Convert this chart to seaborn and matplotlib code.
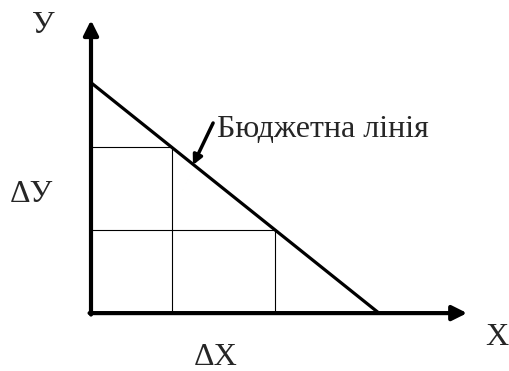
import pandas as pd
import matplotlib.pyplot as plt
import seaborn as sns

# budget line: intercepts on X and Y axes
budget_x = [0, 10]
budget_y = [8, 0]
# two consumption bundles on the budget line
bundle_x = [2.8, 6.4]
bundle_y = [5.76, 2.88]

axis_labels = ['У', 'X']
delta_labels = ['ΔУ', 'ΔX']
line_label = 'Бюджетна лінія'

sns.set_theme(style='white')
plt.rcParams['font.family'] = ['Liberation Serif', 'DejaVu Serif']

fig = plt.figure(figsize=(5.10, 3.71), dpi=100)
ax = fig.add_axes([0, 0, 1, 1])

df = pd.DataFrame({'x': budget_x, 'y': budget_y})
sns.lineplot(data=df, x='x', y='y', color='black', linewidth=2.3, ax=ax)

# grid of the bundles
for bx, by in zip(bundle_x, bundle_y):
    ax.plot([0, bx], [by, by], color='black', linewidth=0.8)
    ax.plot([bx, bx], [0, by], color='black', linewidth=0.8)

# axes with arrows
arrow = dict(arrowstyle='-|>', color='black', linewidth=3,
             mutation_scale=22, shrinkA=0, shrinkB=0)
ax.annotate('', xy=(0, 10.17), xytext=(0, -0.05), arrowprops=arrow)
ax.annotate('', xy=(13.06, 0), xytext=(-0.05, 0), arrowprops=arrow)

fs = 23
ax.text(-1.67, 9.72, axis_labels[0], fontsize=fs, ha='center', va='baseline')
ax.text(14.1, -1.11, axis_labels[1], fontsize=fs, ha='center', va='baseline')
ax.text(-2.08, 3.85, delta_labels[0], fontsize=fs, ha='center', va='baseline')
ax.text(4.34, -1.8, delta_labels[1], fontsize=fs, ha='center', va='baseline')

ax.text(4.375, 6.11, line_label, fontsize=fs, ha='left', va='baseline')
ax.annotate('', xy=(3.54, 5.14), xytext=(4.24, 6.6),
            arrowprops=dict(arrowstyle='-|>', color='black', linewidth=2.5,
                            mutation_scale=14, shrinkA=0, shrinkB=0))

ax.set_xlim(-3.16, 14.55)
ax.set_ylim(-2.01, 10.87)
ax.axis('off')

fig.savefig('out.png', dpi=100, facecolor='white')
